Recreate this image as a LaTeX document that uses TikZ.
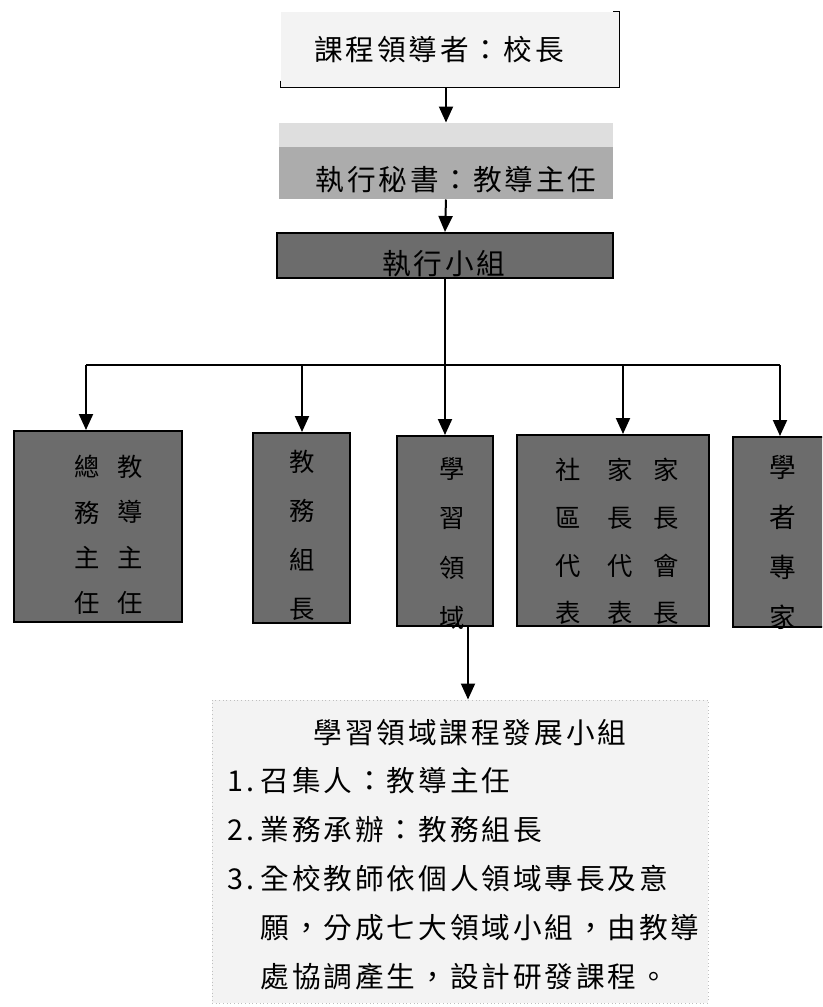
\documentclass[tikz,border=0pt]{standalone}
\usepackage{fontspec}
\newfontfamily\cjk{Noto Sans CJK TC}
\newfontfamily\cjkwide[LetterSpace=10]{Noto Sans CJK TC}
\usetikzlibrary{arrows.meta}
\definecolor{paleback}{RGB}{243,243,243}
\definecolor{lightband}{RGB}{222,222,222}
\definecolor{midgray}{RGB}{172,172,172}
\definecolor{boxgray}{RGB}{108,108,108}
\tikzset{every picture/.style={line width=0.75pt}}
\tikzset{
  arr/.style={draw=black, line width=1.5pt, -{Triangle[width=10.5pt,length=12pt]}},
  wire/.style={draw=black, line width=1.5pt},
  darkbox/.style={draw=black, line width=1.5pt, fill=boxgray, inner sep=0pt},
  headtext/.style={font=\cjkwide\fontsize{21.5}{26}\selectfont, inner sep=0pt},
  coltext/.style={font=\cjk\fontsize{19}{34}\selectfont, align=center, inner sep=0pt},
}

\begin{document}
\begin{tikzpicture}[x=0.75pt,y=0.75pt,yscale=-1,xscale=1]
\useasboundingbox (0,0) rectangle (822,1007);
\clip (0,0) rectangle (822,1007);

%Shape: Rectangle [lead]
\node[fill=paleback, minimum width=253.5pt, minimum height=56.25pt, inner sep=0pt] (lead) at (450,49.5) {};
\draw[line width=1.2pt] (lead.south west) ++(0,-7) -- (lead.south west) -- (lead.south east) -- (lead.north east) -- ++(-7,0);
% Text Node
\node[headtext] (leadtxt) at (439,49.5) {課程領導者：校長};

%Shape: Rectangle [sec]
\node[fill=midgray, minimum width=250.5pt, minimum height=57pt, inner sep=0pt,
  path picture={\fill[lightband] (path picture bounding box.north west) rectangle ([yshift=-18pt]path picture bounding box.north east);}] (sec) at (446,161) {};
% Text Node
\node[headtext] (sectxt) at (456,180) {執行秘書：教導主任};

%Shape: Rectangle [grp]
\node[darkbox, minimum width=252pt, minimum height=33.75pt] (grp) at (445,255.5) {};
% Text Node
\node[headtext] (grptxt) at (444,264) {執行小組};

%Shape: Rectangles [b1 - b5]
\node[darkbox, minimum width=126pt, minimum height=143.25pt] (b1) at (98,526.5) {};
\node[darkbox, minimum width=72.75pt, minimum height=142.5pt] (b2) at (301.5,528) {};
\node[darkbox, minimum width=72pt, minimum height=142.5pt] (b3) at (445,531) {};
\node[darkbox, minimum width=144pt, minimum height=143.25pt] (b4) at (613,530.5) {};
\node[darkbox, minimum width=76.5pt, minimum height=142.5pt] (b5) at (784,532) {};

% Text Node
\node[coltext] (b1l) at (87,535) {總\\務\\主\\任};
\node[coltext] (b1r) at (130,535) {教\\導\\主\\任};
% Text Node
\node[coltext, font=\cjk\fontsize{19}{36.75}\selectfont] (b2t) at (302,535) {教\\務\\組\\長};
% Text Node
\node[coltext, font=\cjk\fontsize{19}{37.25}\selectfont] (b3t) at (452,543) {學\\習\\領\\域};
% Text Node
\node[coltext, font=\cjk\fontsize{19}{35.75}\selectfont] (b4l) at (568,541.5) {社\\區\\代\\表};
\node[coltext, font=\cjk\fontsize{19}{35.75}\selectfont] (b4m) at (620,541.5) {家\\長\\代\\表};
\node[coltext, font=\cjk\fontsize{19}{35.75}\selectfont] (b4r) at (666,541.5) {家\\長\\會\\長};
% Text Node
\node[coltext, font=\cjk\fontsize{20}{37.5}\selectfont] (b5t) at (783,542) {學\\者\\專\\家};

%Shape: Rectangle [dev]
\node[fill=paleback, draw=black!25, dotted, minimum width=372pt, minimum height=227.25pt, inner sep=0pt] (dev) at (460,851.5) {};
% Text Node
\node[headtext] (devtitle) at (470,733) {學習領域課程發展小組};
% Text Node
\node[headtext, align=left, anchor=west, font=\cjkwide\fontsize{21.5}{36.75}\selectfont] (devlist) at (227,878.5)
  {\makebox[25pt][l]{1.}召集人：教導主任\\
   \makebox[25pt][l]{2.}業務承辦：教務組長\\
   \makebox[25pt][l]{3.}全校教師依個人領域專長及意\\
   \hspace*{25pt}願，分成七大領域小組，由教導\\
   \hspace*{25pt}處協調產生，設計研發課程。};

%Straight Lines [connectors]
\draw[arr] (lead.south -| sec.north) -- (sec.north);
\draw[arr] (sec.south) -- (grp.north);
\coordinate (bus) at (445,365);
\coordinate (j1) at (86,365);
\coordinate (j2) at (302,365);
\coordinate (j3) at (445,365);
\coordinate (j4) at (623,365);
\coordinate (j5) at (780,365);
\draw[wire] (grp.south) -- (bus);
\draw[wire] (j1) -- (j5);
\foreach \j/\b in {j1/b1,j2/b2,j3/b3,j4/b4,j5/b5}
  \draw[arr] (\j) -- (\j |- \b.north);
\coordinate (b3out) at ([xshift=17.25pt]b3.south);
\draw[arr] (b3out) -- (b3out |- dev.north);

\end{tikzpicture}
\end{document}
